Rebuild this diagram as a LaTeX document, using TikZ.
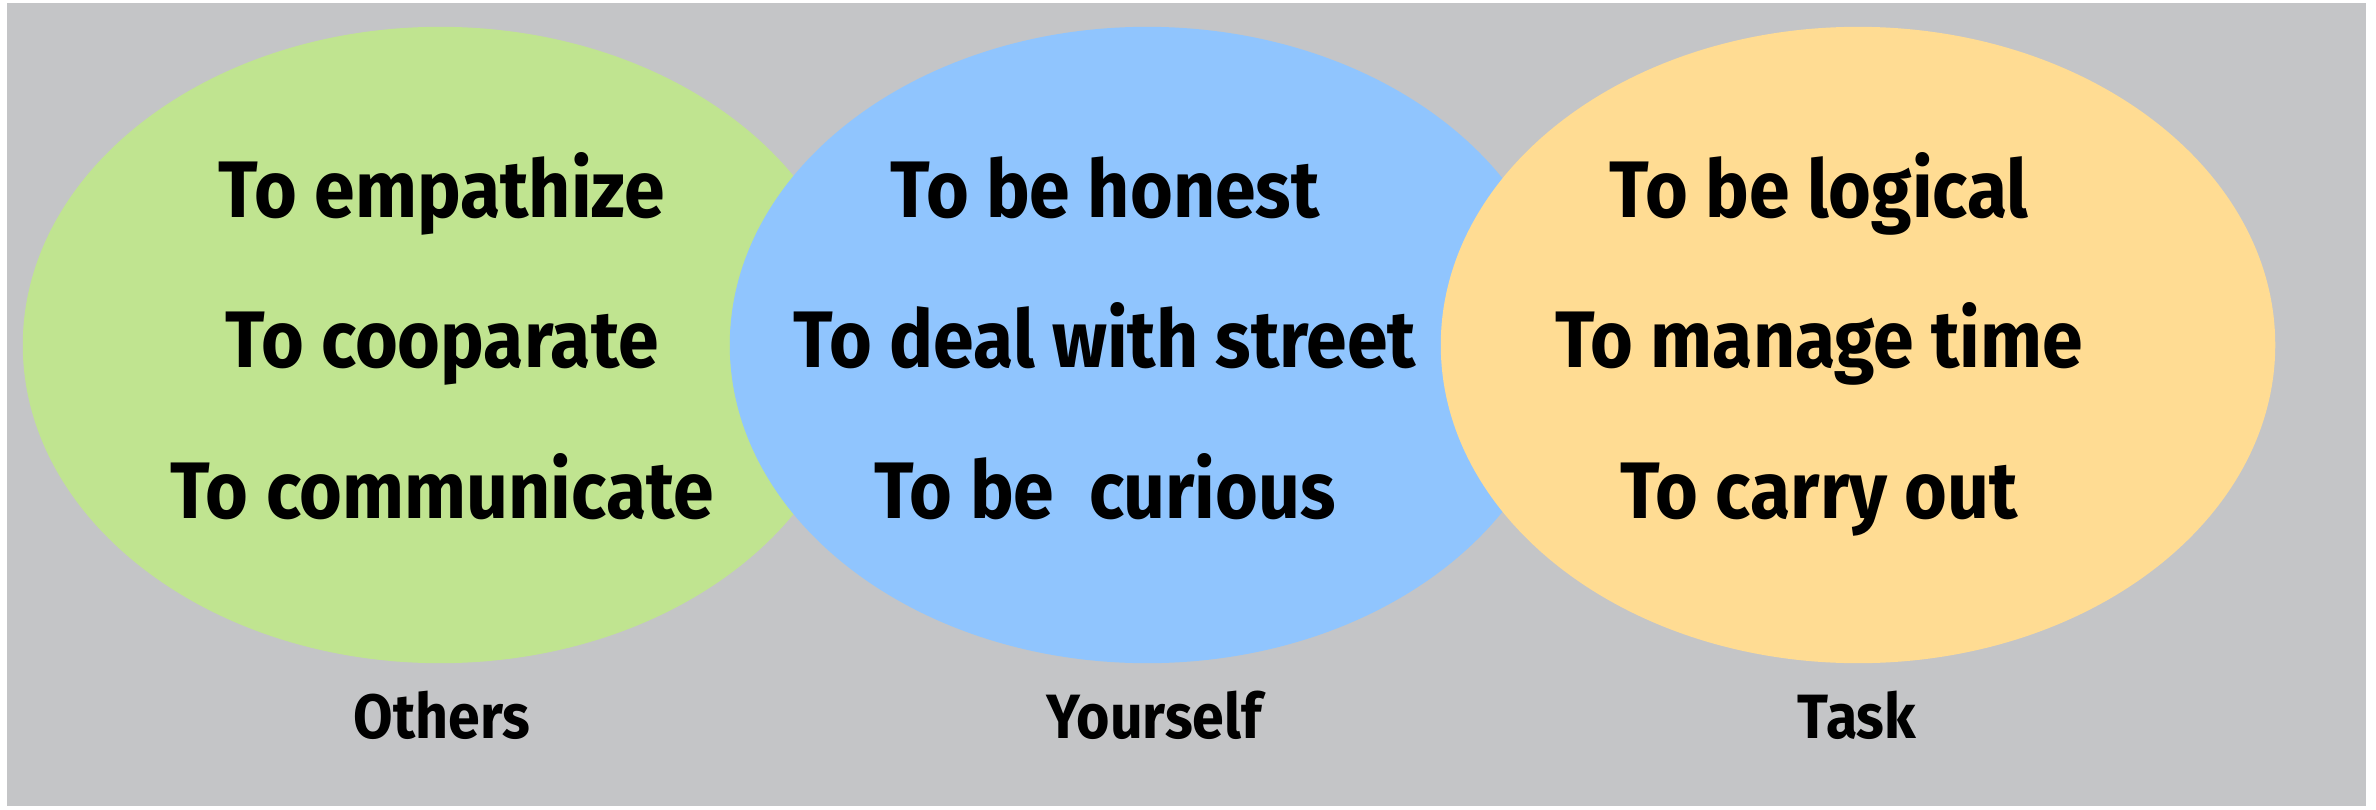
\documentclass[tikz,border=0pt]{standalone}
\usepackage{fontspec}
\newfontfamily\skillfont{Fira Sans}[FakeStretch=0.915]
\definecolor{bggray}{RGB}{196,197,199}
\definecolor{othersgreen}{RGB}{192,228,144}
\definecolor{selfblue}{RGB}{144,197,254}
\definecolor{taskorange}{RGB}{255,220,147}
\begin{document}
\begin{tikzpicture}[x=0.01cm, y=-0.01cm,
		skill/.style={anchor=base, font=\skillfont\bfseries\fontsize{22.8}{26}\selectfont},
		group/.style={anchor=base, font=\skillfont\bfseries\fontsize{17.8}{22}\selectfont}]
	\useasboundingbox (0,0) rectangle (2376,809);
	\fill [bggray] (7,3) rectangle (2366,806);
	% the three areas, each one over the one before
	\fill [othersgreen] (440,345) ellipse [x radius=4.17cm, y radius=3.18cm];
	\fill [selfblue] (1147,345) ellipse [x radius=4.17cm, y radius=3.18cm];
	\fill [taskorange] (1858,345) ellipse [x radius=4.17cm, y radius=3.18cm];
	% others
	\node [skill] (empathize) at (442,217) {To empathize};
	\node [skill] (cooparate) at (442,367) {To cooparate};
	\node [skill] (communicate) at (442,518) {To communicate};
	\node [group] (others) at (442,738) {Others};
	% yourself
	\node [skill] (honest) at (1105,217) {To be honest};
	\node [skill] (street) at (1105,367) {To deal with street};
	\node [skill] (curious) at (1105,518) {To be~ curious};
	\node [group] (yourself) at (1154,738) {Yourself};
	% task
	\node [skill] (logical) at (1819,217) {To be logical};
	\node [skill] (time) at (1819,367) {To manage time};
	\node [skill] (carry) at (1819,518) {To carry out};
	\node [group] (task) at (1857,738) {Task};
\end{tikzpicture}
\end{document}
